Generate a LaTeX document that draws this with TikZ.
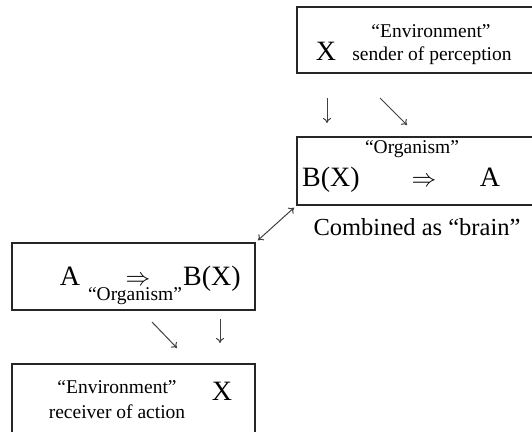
\documentclass[tikz,border=0pt]{standalone}
\usepackage{fontspec}
\setmainfont{Liberation Serif}
\usetikzlibrary{arrows.meta}

\tikzset{
  box/.style={draw=black!85,line width=1.4bp,inner sep=0pt},
  big/.style={font=\fontsize{28bp}{30bp}\selectfont,anchor=base,inner sep=0pt},
  mid/.style={font=\fontsize{24.5bp}{26bp}\selectfont,anchor=base,inner sep=0pt},
  small/.style={font=\fontsize{19.5bp}{21bp}\selectfont,anchor=base,inner sep=0pt},
  arr/.style={-{To[length=5bp,width=8bp]},draw=black!75,line width=1bp},
}

\begin{document}
\begin{tikzpicture}[x=1bp,y=1bp]
\useasboundingbox (0bp,0bp) rectangle (532bp,432bp);

% Node: environment, sender
\node[box,minimum width=237bp,minimum height=66bp] (envtop) at (415.5bp,392bp) {};
\node[big] (xtop) at (326bp,371bp) {X};
\node[small] (envtoplabel) at (431bp,394bp) {“Environment”};
\node[small] (sender) at (432bp,371bp) {sender of perception};

% Node: organism, brain
\node[box,minimum width=237bp,minimum height=68bp] (orgtop) at (415.5bp,261bp) {};
\node[small] (orgtoplabel) at (412bp,278bp) {“Organism”};
\node[big] (bxtop) at (331bp,245bp) {B(X)};
\node[big] (impltop) at (424bp,245bp) {$\Rightarrow$};
\node[big] (atop) at (490bp,245bp) {A};
\node[mid] (combined) at (417bp,196bp) {Combined as “brain”};

% Node: organism, acting
\node[box,minimum width=243bp,minimum height=67bp] (orgbot) at (133.5bp,155.5bp) {};
\node[big] (abot) at (70bp,146bp) {A};
\node[big] (implbot) at (138bp,146bp) {$\Rightarrow$};
\node[big] (bxbot) at (212bp,146bp) {B(X)};
\node[small] (orgbotlabel) at (135bp,131bp) {“Organism”};

% Node: environment, receiver
\node[box,minimum width=243bp,minimum height=76bp] (envbot) at (133.5bp,30bp) {};
\node[small] (envbotlabel) at (117bp,39bp) {“Environment”};
\node[small] (receiver) at (117bp,14bp) {receiver of action};
\node[big] (xbot) at (222bp,32bp) {X};

% Edge ends
\coordinate (d1s) at (327bp,334bp);
\coordinate (d1e) at (327bp,309bp);
\coordinate (s1s) at (380bp,334bp);
\coordinate (s1e) at (407bp,307bp);
\coordinate (s2s) at (152bp,110bp);
\coordinate (s2e) at (177bp,84bp);
\coordinate (d2s) at (220bp,113bp);
\coordinate (d2e) at (220bp,89bp);

% Edges
\draw[arr] (d1s) -- (d1e);
\draw[arr] (s1s) -- (s1e);
\draw[arr,{To[length=5bp,width=8bp]}-{To[length=5bp,width=8bp]},shorten <=3bp,shorten >=3bp] (orgbot.north east) -- (orgtop.south west);
\draw[arr] (s2s) -- (s2e);
\draw[arr] (d2s) -- (d2e);
%
\end{tikzpicture}
\end{document}
